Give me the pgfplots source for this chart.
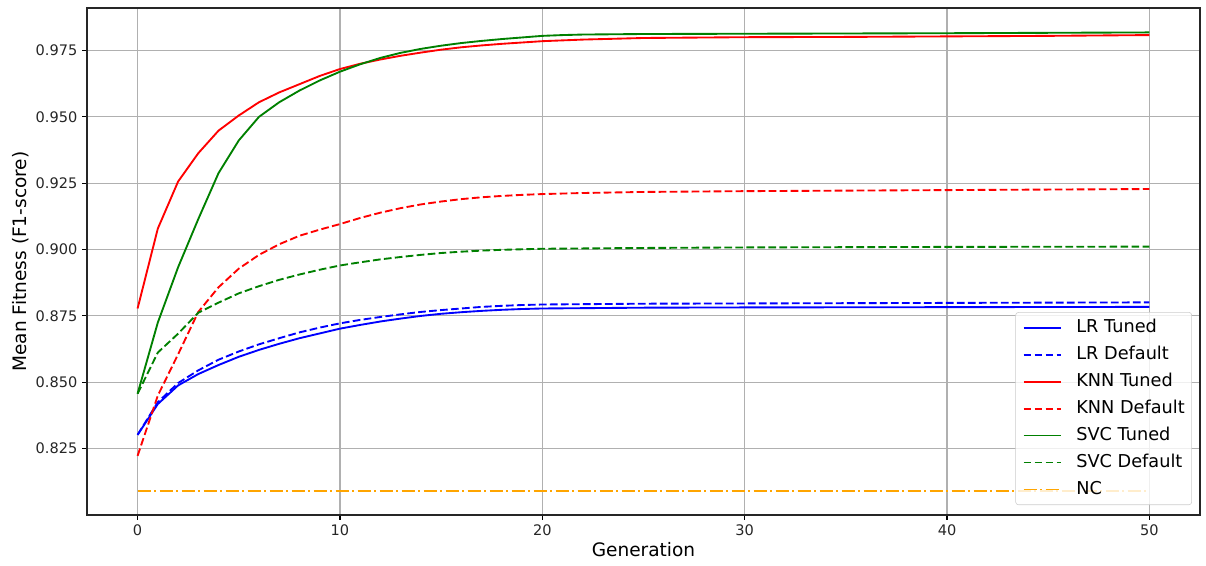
\documentclass[border=0pt]{standalone}
\usepackage{fontspec}
\setmainfont{DejaVu Sans}
\usepackage{pgfplots}
\pgfplotsset{compat=1.18}

\definecolor{mplgrid}{gray}{0.69}
\definecolor{mplgreen}{RGB}{0,128,0}
\definecolor{mplorange}{RGB}{255,165,0}
\definecolor{mplframe}{gray}{0.8}

\tikzset{
  solidln/.style={line width=1.35pt, line join=round},
  dashln/.style={line width=1.35pt, dash pattern=on 5.55pt off 2.4pt},
  dashdotln/.style={line width=1.35pt, dash pattern=on 9.6pt off 2.4pt on 1.5pt off 2.4pt},
}

\begin{document}
\begin{tikzpicture}
\begin{axis}[
  at={(0,0)}, anchor=south west,
  scale only axis, width=11.13in, height=5.07in,
  xmin=-2.5, xmax=52.5, ymin=0.800, ymax=0.991,
  xtick={0,10,20,30,40,50},
  ytick={0.825,0.850,0.875,0.900,0.925,0.950,0.975},
  yticklabel style={/pgf/number format/.cd, fixed, fixed zerofill, precision=3},
  /pgf/number format/assume math mode=true,
  tick label style={font=\fontsize{10.5}{12}\selectfont, text=black!85},
  tick align=outside, tick pos=left, major tick length=3.5pt,
  every tick/.style={black, line width=0.8pt},
  axis line style={black!85, line width=0.8pt},
  grid=major, major grid style={mplgrid, line width=0.8pt},
  xlabel={Generation}, ylabel={Mean Fitness (F1-score)},
  label style={font=\fontsize{13.4}{16}\selectfont},
  xlabel style={at={(axis description cs:0.5,-0.069)}, anchor=center},
  ylabel style={at={(axis description cs:-0.0594,0.5)}, anchor=center},
  legend cell align=left,
  legend image code/.code={\draw[#1] (0pt,0pt) -- (27pt,0pt);},
  legend style={at={(rel axis cs:0.9928,0.0197)}, anchor=south east,
    draw=mplframe, fill=white, fill opacity=0.8, text opacity=1, draw opacity=1,
    rounded corners=2pt, inner xsep=5pt, inner ysep=5pt,
    font=\fontsize{12.8}{15}\selectfont, row sep=7.5pt, column sep=0pt,
    nodes={inner sep=0pt, text height=9.5pt, text depth=2.5pt},
    /tikz/every odd column/.append style={column sep=10.5pt}},
]
\addplot[blue, solidln] coordinates {
(0,0.8302) (1,0.8418) (2,0.8488) (3,0.8531) (4,0.8565) (5,0.8596) (6,0.8622)
(7,0.8645) (8,0.8666) (9,0.8684) (10,0.8702) (11,0.8716) (12,0.8729) (13,0.8740)
(14,0.8750) (15,0.8758) (16,0.8764) (17,0.8769) (18,0.8773) (19,0.8776) (20,0.8778)
(25,0.8781) (30,0.8782) (40,0.8783) (50,0.8784)};
\addlegendentry{LR Tuned}
\addplot[blue, dashln] coordinates {
(0,0.8302) (1,0.8425) (2,0.8497) (3,0.8545) (4,0.8585) (5,0.8616) (6,0.8643)
(7,0.8666) (8,0.8688) (9,0.8706) (10,0.8722) (11,0.8735) (12,0.8746) (13,0.8756)
(14,0.8765) (15,0.8772) (16,0.8778) (17,0.8784) (18,0.8788) (19,0.8791) (20,0.8793)
(25,0.8796) (30,0.8797) (40,0.8799) (50,0.8801)};
\addlegendentry{LR Default}
\addplot[red, solidln] coordinates {
(0,0.8778) (1,0.9079) (2,0.9256) (3,0.9363) (4,0.9448) (5,0.9505) (6,0.9555)
(7,0.9592) (8,0.9623) (9,0.9654) (10,0.9680) (11,0.9700) (12,0.9716) (13,0.9730)
(14,0.9742) (15,0.9753) (16,0.9762) (17,0.9769) (18,0.9775) (19,0.9780) (20,0.9785)
(22,0.9791) (25,0.9797) (30,0.9800) (35,0.9801) (40,0.9803) (45,0.9805) (50,0.9808)};
\addlegendentry{KNN Tuned}
\addplot[red, dashln] coordinates {
(0,0.8223) (1,0.8450) (2,0.8605) (3,0.8765) (4,0.8858) (5,0.8928) (6,0.8980)
(7,0.9020) (8,0.9052) (9,0.9075) (10,0.9096) (11,0.9119) (12,0.9139) (13,0.9156)
(14,0.9170) (15,0.9181) (16,0.9190) (17,0.9197) (18,0.9202) (19,0.9206) (20,0.9209)
(22,0.9213) (25,0.9217) (30,0.9220) (35,0.9222) (40,0.9224) (45,0.9226) (50,0.9228)};
\addlegendentry{KNN Default}
\addplot[mplgreen, solidln] coordinates {
(0,0.8457) (1,0.8725) (2,0.8933) (3,0.9115) (4,0.9288) (5,0.9411) (6,0.9500)
(7,0.9555) (8,0.9599) (9,0.9637) (10,0.9670) (11,0.9698) (12,0.9722) (13,0.9741)
(14,0.9756) (15,0.9768) (16,0.9778) (17,0.9786) (18,0.9793) (19,0.9799) (20,0.9805)
(21,0.9808) (22,0.9810) (25,0.9812) (30,0.9813) (40,0.9815) (50,0.9818)};
\addlegendentry{SVC Tuned}
\addplot[mplgreen, dashln] coordinates {
(0,0.8457) (1,0.8612) (2,0.8683) (3,0.8762) (4,0.8800) (5,0.8835) (6,0.8862)
(7,0.8886) (8,0.8906) (9,0.8924) (10,0.8940) (11,0.8952) (12,0.8963) (13,0.8972)
(14,0.8980) (15,0.8987) (16,0.8992) (17,0.8996) (18,0.8999) (19,0.9001) (20,0.9003)
(25,0.9006) (30,0.9008) (40,0.9010) (50,0.9011)};
\addlegendentry{SVC Default}
\addplot[mplorange, dashdotln] coordinates {(0,0.8090) (50,0.8090)};
\addlegendentry{NC}
\end{axis}
\pgfresetboundingbox
\useasboundingbox (-0.87in,-0.50in) rectangle (11.19in,5.15in);
\end{tikzpicture}
\end{document}
